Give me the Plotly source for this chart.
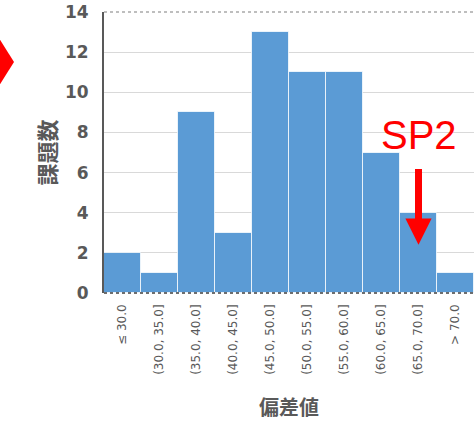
import plotly.graph_objects as go

categories = ["≤ 30.0", "(30.0, 35.0]", "(35.0, 40.0]", "(40.0, 45.0]", "(45.0, 50.0]",
              "(50.0, 55.0]", "(55.0, 60.0]", "(60.0, 65.0]", "(65.0, 70.0]", "> 70.0"]
counts = [2, 1, 9, 3, 13, 11, 11, 7, 4, 1]
y_ticks = [0, 2, 4, 6, 8, 10, 12, 14]

W, H = 474, 422
L, R, T, B = 104, 0, 12, 129
PW, PH = W - L - R, H - T - B

def px(x):
    return (x - L) / PW

def py(y):
    return (H - B - y) / PH

GRAY = "#595959"

fig = go.Figure(go.Bar(
    x=categories, y=counts,
    marker=dict(color="#5B9BD5", line=dict(color="rgba(255,255,255,0.75)", width=1)),
))

fig.update_layout(
    width=W, height=H,
    margin=dict(l=L, r=R, t=T, b=B, autoexpand=False),
    paper_bgcolor="white", plot_bgcolor="white",
    bargap=0, showlegend=False,
    xaxis=dict(
        type="category", range=[-0.5, 9.5], automargin=False,
        tickangle=-90, tickfont=dict(family="DejaVu Sans", size=12, color=GRAY),
        ticks="", showgrid=False, showline=False, ticklabelstandoff=8,
    ),
    yaxis=dict(
        range=[0, 14], tickvals=y_ticks, ticktext=[str(v) for v in y_ticks], automargin=False,
        tickfont=dict(family="DejaVu Sans", size=17, color=GRAY, weight="bold"),
        showgrid=True, gridcolor="#d9d9d9", gridwidth=1,
        showline=True, linecolor=GRAY, linewidth=2,
        ticks="", ticklabelstandoff=10, zeroline=False,
    ),
    shapes=[
        dict(type="line", xref="paper", yref="paper", x0=0, x1=1, y0=0, y1=0,
             line=dict(color="#404040", width=1.5, dash="dot")),
        dict(type="line", xref="paper", yref="paper", x0=0, x1=1, y0=1, y1=1,
             line=dict(color="#7f7f7f", width=1.2, dash="dot")),
        dict(type="path", xref="paper", yref="paper",
             path=f"M {px(-10)},{py(24)} L {px(14)},{py(62)} L {px(-10)},{py(100)} Z",
             fillcolor="#FF0000", line=dict(width=0)),
    ],
    annotations=[
        dict(text="課題数", xref="paper", yref="paper", x=px(27), y=0.5,
             showarrow=False, textangle=-90,
             font=dict(family="Noto Sans CJK JP", size=22, color=GRAY, weight="bold")),
        dict(text="偏差値", xref="paper", yref="paper", x=0.5, y=py(406),
             showarrow=False, yanchor="middle",
             font=dict(family="Noto Sans CJK JP", size=20, color=GRAY, weight="bold")),
        dict(text="SP2", x=8, y=7.85, xref="x", yref="y", showarrow=False,
             font=dict(family="Liberation Sans", size=40, color="#FF0000")),
        dict(text="", x=8, y=2.4, xref="x", yref="y", ax=8, ay=6.25, axref="x", ayref="y",
             showarrow=True, arrowhead=2, arrowwidth=7, arrowsize=0.75, arrowcolor="#FF0000"),
    ],
)

fig.write_html(
    "out.html",
    config={"displayModeBar": False},
    post_script="document.body.style.margin='0';document.body.style.overflow='hidden';",
)
